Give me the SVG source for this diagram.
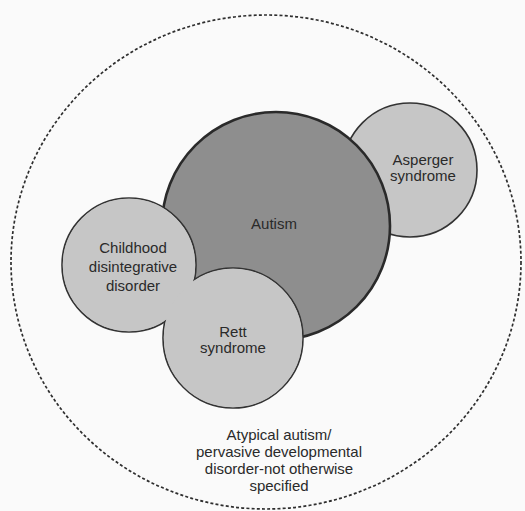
<svg xmlns="http://www.w3.org/2000/svg" width="525" height="511" viewBox="0 0 525 511">
  <style>
    .lbl { font-family: "Liberation Sans", Arial, sans-serif; font-size: 15px; fill: #2a2a2a; text-anchor: middle; }
    .light { fill: #c6c6c6; }
    .edge { stroke: #333; stroke-width: 1.6; }
  </style>
  <rect width="525" height="511" fill="#fafafa"/>

  <!-- outer boundary: atypical autism / PDD-NOS -->
  <g id="pdd-nos">
    <ellipse cx="266" cy="262" rx="255" ry="247" fill="none" stroke="#2e2e2e" stroke-width="1.7" stroke-dasharray="3 2.2"/>
    <text class="lbl" x="279" y="440">Atypical autism/</text>
    <text class="lbl" x="279" y="457">pervasive developmental</text>
    <text class="lbl" x="279" y="474">disorder-not otherwise</text>
    <text class="lbl" x="279" y="491">specified</text>
  </g>

  <g id="asperger">
    <circle cx="410" cy="170" r="67" class="light edge"/>
    <text class="lbl" x="423" y="165">Asperger</text>
    <text class="lbl" x="423" y="181">syndrome</text>
  </g>

  <g id="autism">
    <circle cx="276" cy="226" r="114" fill="#8e8e8e" stroke="#2a2a2a" stroke-width="2.6"/>
    <text class="lbl" x="274" y="229">Autism</text>
  </g>

  <!-- childhood disintegrative disorder and Rett share one merged outline -->
  <g id="cdd-rett">
    <circle cx="129" cy="265" r="67" class="light edge"/>
    <circle cx="233" cy="338" r="70" class="light edge"/>
    <circle cx="129" cy="265" r="66.2" class="light"/>
    <circle cx="233" cy="338" r="69.2" class="light"/>
  </g>
  <g id="cdd">
    <text class="lbl" x="133" y="253">Childhood</text>
    <text class="lbl" x="133" y="272">disintegrative</text>
    <text class="lbl" x="133" y="291">disorder</text>
  </g>
  <g id="rett">
    <text class="lbl" x="233" y="337">Rett</text>
    <text class="lbl" x="233" y="353">syndrome</text>
  </g>
</svg>
